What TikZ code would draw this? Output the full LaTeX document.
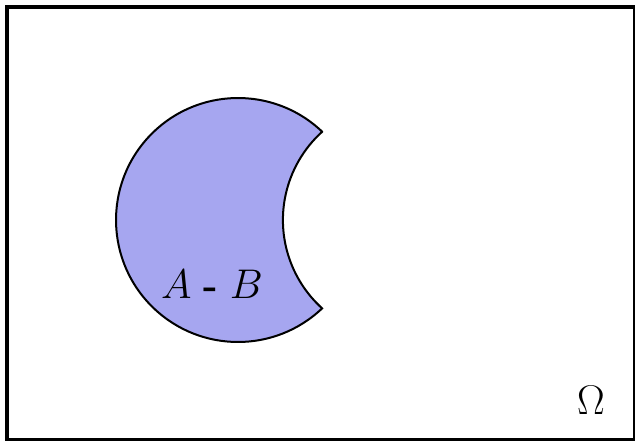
\documentclass[tikz,border=0pt]{standalone}
\definecolor{setFill}{RGB}{166, 166, 240}

\begin{document}
\begin{tikzpicture}[x=0.5pt, y=0.5pt]
        \useasboundingbox (0,0) rectangle (635,440);
        \clip (0,0) rectangle (635,440);
        \draw[line width=2pt] (7,433) rectangle (634.5,0);
        \coordinate (cA) at (238,220);
        \coordinate (cB) at (402,220);
        \draw[fill=setFill, line width=1pt] ([shift={(46.4:122)}]cA) arc[start angle=46.4, end angle=313.6, radius=122]
            arc[start angle=227.9, end angle=132.1, radius=119] -- cycle;
        \node[font=\fontsize{19.5}{24}\selectfont] (diff) at (212,156) {$A$ \textbf{-} $B$};
        \node[font=\fontsize{20.5}{24}\selectfont] (omega) at (591,40) {$\Omega$};
      \end{tikzpicture}
\end{document}
